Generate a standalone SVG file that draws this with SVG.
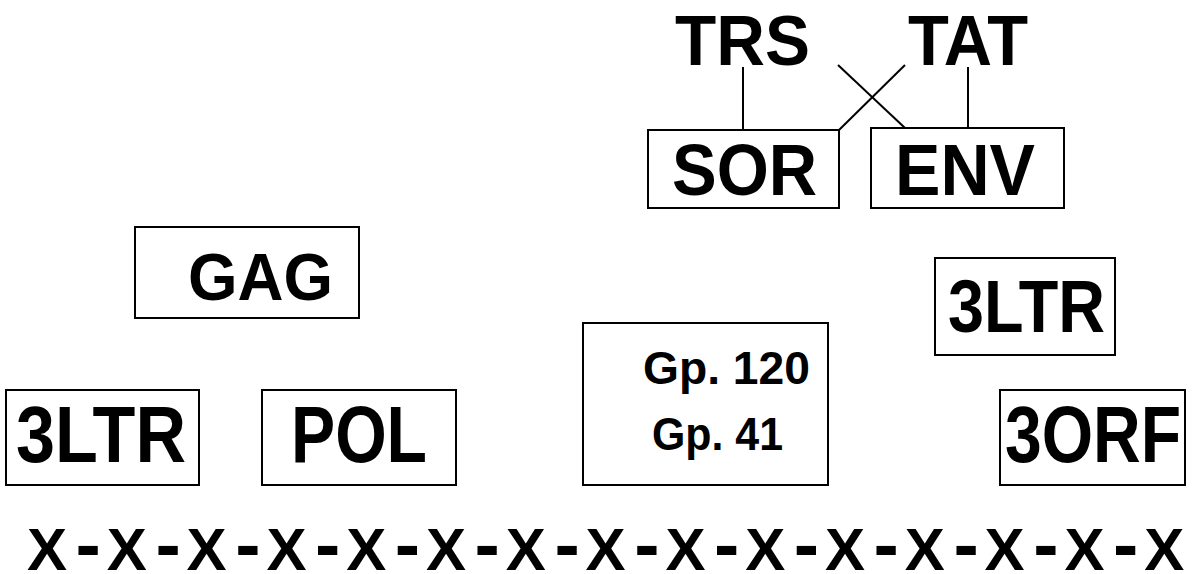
<svg xmlns="http://www.w3.org/2000/svg" width="1193" height="574" viewBox="0 0 1193 574">
<style>
.box{fill:#fff;stroke:#000;stroke-width:2}
.t{font-family:"Liberation Sans",Arial,Helvetica,sans-serif;font-weight:bold;fill:#000}
.ln{stroke:#000;stroke-width:2;fill:none}
.d{font-size:76px}
</style>
<rect width="1193" height="574" fill="#fff"/>
<g id="connectors">
<line class="ln" x1="743" y1="67" x2="743" y2="130"/>
<line class="ln" x1="968" y1="67" x2="968" y2="128"/>
<line class="ln" x1="838" y1="65" x2="905" y2="128"/>
<line class="ln" x1="905" y1="65" x2="839" y2="130"/>
</g>
<g id="TRS"><text class="t" x="675" y="65" font-size="70" textLength="135" lengthAdjust="spacingAndGlyphs">TRS</text></g>
<g id="TAT"><text class="t" x="908" y="65" font-size="70" textLength="120" lengthAdjust="spacingAndGlyphs">TAT</text></g>
<g id="SOR"><rect class="box" x="648" y="130" width="191" height="78"/><text class="t" x="672" y="195" font-size="72" textLength="145" lengthAdjust="spacingAndGlyphs">SOR</text></g>
<g id="ENV"><rect class="box" x="871" y="128" width="193" height="80"/><text class="t" x="895" y="195" font-size="72" textLength="140" lengthAdjust="spacingAndGlyphs">ENV</text></g>
<g id="GAG"><rect class="box" x="135" y="227" width="224" height="91"/><text class="t" x="188" y="300" font-size="66" textLength="145" lengthAdjust="spacingAndGlyphs">GAG</text></g>
<g id="LTR3b"><rect class="box" x="935" y="258" width="180" height="97"/><text class="t" x="948" y="332" font-size="75" textLength="157" lengthAdjust="spacingAndGlyphs">3LTR</text></g>
<g id="GP"><rect class="box" x="583" y="323" width="245" height="162"/><text class="t" x="643" y="384" font-size="47" textLength="167" lengthAdjust="spacingAndGlyphs">Gp. 120</text><text class="t" x="652" y="450" font-size="47" textLength="131" lengthAdjust="spacingAndGlyphs">Gp. 41</text></g>
<g id="ORF3"><rect class="box" x="1000" y="390" width="185" height="95"/><text class="t" x="1005" y="462" font-size="80" textLength="176" lengthAdjust="spacingAndGlyphs">3ORF</text></g>
<g id="LTR3a"><rect class="box" x="6" y="390" width="193" height="95"/><text class="t" x="16" y="462" font-size="80" textLength="170" lengthAdjust="spacingAndGlyphs">3LTR</text></g>
<g id="POL"><rect class="box" x="262" y="390" width="194" height="95"/><text class="t" x="291" y="462" font-size="80" textLength="136" lengthAdjust="spacingAndGlyphs">POL</text></g>
<g id="chain"><text class="t" font-size="60" y="570"><tspan x="27">X</tspan><tspan class="d" x="75.6">-</tspan><tspan x="106.8">X</tspan><tspan class="d" x="155.4">-</tspan><tspan x="186.6">X</tspan><tspan class="d" x="235.2">-</tspan><tspan x="266.4">X</tspan><tspan class="d" x="315">-</tspan><tspan x="346.2">X</tspan><tspan class="d" x="394.8">-</tspan><tspan x="426">X</tspan><tspan class="d" x="474.6">-</tspan><tspan x="505.8">X</tspan><tspan class="d" x="554.4">-</tspan><tspan x="585.6">X</tspan><tspan class="d" x="634.2">-</tspan><tspan x="665.4">X</tspan><tspan class="d" x="714">-</tspan><tspan x="745.2">X</tspan><tspan class="d" x="793.8">-</tspan><tspan x="825">X</tspan><tspan class="d" x="873.6">-</tspan><tspan x="904.8">X</tspan><tspan class="d" x="953.4">-</tspan><tspan x="984.6">X</tspan><tspan class="d" x="1033.2">-</tspan><tspan x="1064.4">X</tspan><tspan class="d" x="1113">-</tspan><tspan x="1144.2">X</tspan></text></g>
</svg>
